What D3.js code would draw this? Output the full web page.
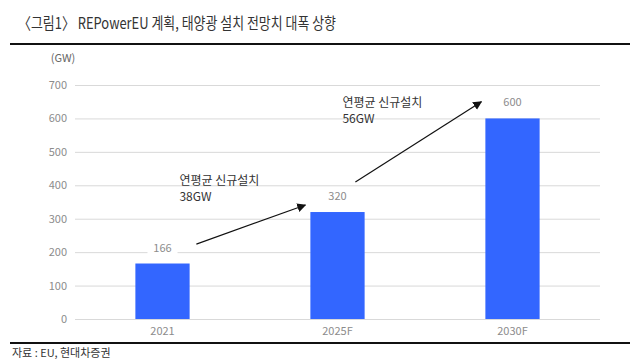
<!DOCTYPE html>
<html><head><meta charset="utf-8">
<script src="https://cdn.jsdelivr.net/npm/d3@7"></script>
<style>
body{margin:0;background:#fff;}
text{font-family:"Noto Sans CJK KR","Noto Sans",sans-serif;}
</style></head>
<body><svg id="c" width="640" height="360"></svg>
<script>
const categories = ["2021", "2025F", "2030F"];
const values = [166, 320, 600];
const yTicks = [0, 100, 200, 300, 400, 500, 600, 700];
const titleText = "〈그림1〉 REPowerEU 계획, 태양광 설치 전망치 대폭 상향";
const unitText = "(GW)";
const sourceText = "자료 : EU, 현대차증권";
const annoLines = [["연평균 신규설치", "38GW"], ["연평균 신규설치", "56GW"]];

const svg = d3.select("#c");
const x = d3.scaleBand().domain(categories).range([75, 600]).paddingInner(0.69).paddingOuter(0.345);
const y = d3.scaleLinear().domain([0, 700]).range([319, 85]);

// title
svg.append("text").attr("x", 18).attr("y", 29).attr("font-size", 16).attr("fill", "#333")
  .attr("textLength", 318).attr("lengthAdjust", "spacingAndGlyphs").text(titleText);
svg.append("line").attr("x1", 10).attr("x2", 630).attr("y1", 44).attr("y2", 44).attr("stroke", "#111").attr("stroke-width", 2);

// grid
const yAxis = d3.axisLeft(y).tickValues(yTicks).tickSize(-525).tickPadding(8);
const ga = svg.append("g").attr("transform", "translate(75,0)").call(yAxis);
ga.select(".domain").remove();
ga.selectAll(".tick line").attr("stroke", "#d9d9d9").attr("stroke-width", 1);
ga.selectAll(".tick text").attr("fill", "#8c8c8c").attr("font-size", 11).attr("font-family", "Liberation Sans, Arial, sans-serif");

svg.append("text").attr("x", 63).attr("y", 62).attr("text-anchor", "middle").attr("font-size", 11)
  .attr("fill", "#666").attr("font-family", "Liberation Sans, Arial, sans-serif").text(unitText);

// x axis labels
const xa = d3.axisBottom(x).tickSize(0).tickPadding(8);
const gx = svg.append("g").attr("transform", "translate(0,319)").call(xa);
gx.select(".domain").remove();
gx.selectAll(".tick text").attr("fill", "#8c8c8c").attr("font-size", 11).attr("font-family", "Liberation Sans, Arial, sans-serif");

// bars
svg.selectAll("rect.bar").data(values).enter().append("rect").attr("class", "bar")
  .attr("x", (d, i) => x(categories[i])).attr("width", x.bandwidth())
  .attr("y", d => y(d)).attr("height", d => y(0) - y(d)).attr("fill", "#3366ff");

// value labels with white background
const vl = svg.selectAll("g.vl").data(values).enter().append("g").attr("class", "vl")
  .attr("transform", (d, i) => `translate(${x(categories[i]) + x.bandwidth() / 2},${y(d) - 12})`);
vl.append("rect").attr("x", -15).attr("y", -10).attr("width", 30).attr("height", 14).attr("fill", "#fff");
vl.append("text").attr("text-anchor", "middle").attr("font-size", 11).attr("fill", "#8c8c8c")
  .attr("font-family", "Liberation Sans, Arial, sans-serif").text(d => d);

// arrows
const defs = svg.append("defs");
defs.append("marker").attr("id", "ah").attr("viewBox", "0 0 10 10").attr("refX", 9).attr("refY", 5)
  .attr("markerWidth", 9).attr("markerHeight", 9).attr("markerUnits", "userSpaceOnUse").attr("orient", "auto")
  .append("path").attr("d", "M0,0 L10,5 L0,10 Z").attr("fill", "#111");
const arrows = [
  {x1: x("2021") + 61, v1: 224, x2: x("2025F") - 5, v2: 341},
  {x1: x("2025F") + 45, v1: 410, x2: x("2030F") - 4, v2: 650}
];
arrows.forEach(a => {
  svg.append("line").attr("x1", a.x1).attr("y1", y(a.v1)).attr("x2", a.x2).attr("y2", y(a.v2))
    .attr("stroke", "#111").attr("stroke-width", 1.2).attr("marker-end", "url(#ah)");
});

const annoPos = [{x: x("2021") + 44, v: 400}, {x: x("2025F") + 32, v: 635}];
annoLines.forEach((lines, i) => {
  const t = svg.append("text").attr("x", annoPos[i].x).attr("y", y(annoPos[i].v)).attr("font-size", 12).attr("fill", "#333");
  lines.forEach((l, j) => t.append("tspan").attr("x", annoPos[i].x).attr("dy", j ? 16 : 0).text(l));
});

// bottom
svg.append("line").attr("x1", 10).attr("x2", 630).attr("y1", 343).attr("y2", 343).attr("stroke", "#111").attr("stroke-width", 2);
svg.append("text").attr("x", 12).attr("y", 357).attr("font-size", 11).attr("fill", "#333").text(sourceText);
</script></body></html>
